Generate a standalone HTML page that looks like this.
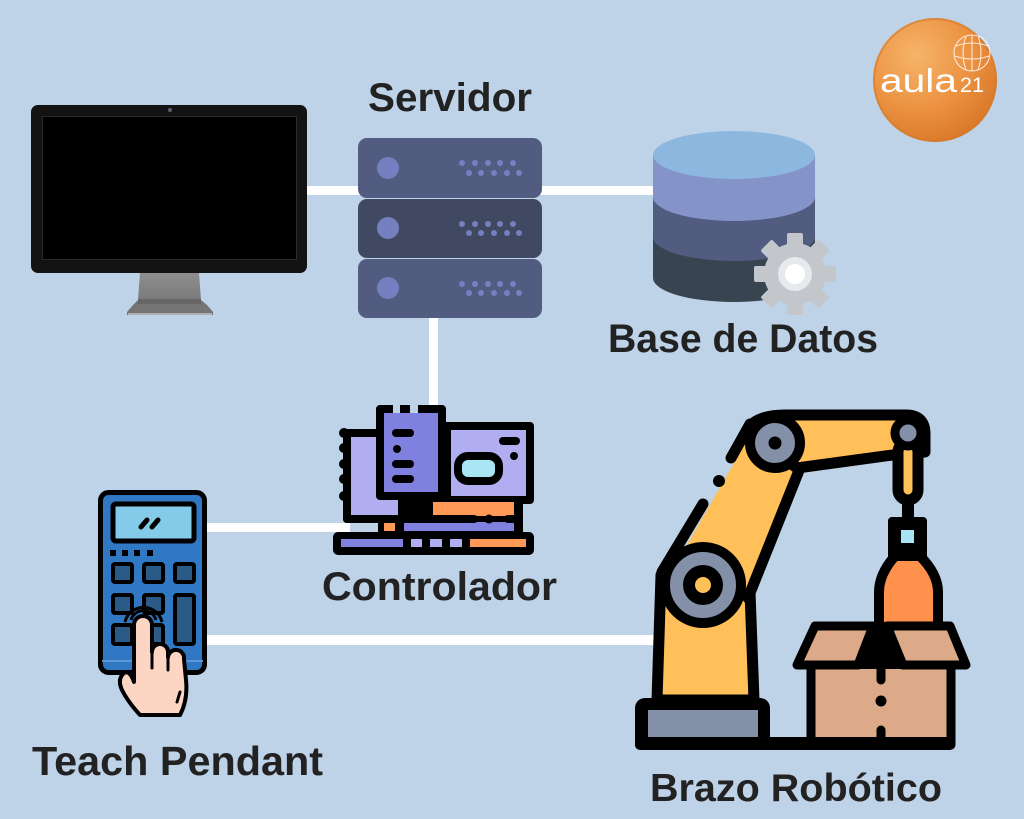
<!DOCTYPE html>
<html>
<head>
<meta charset="utf-8">
<style>
html,body{margin:0;padding:0;}
body{width:1024px;height:819px;overflow:hidden;background:#bed2e8;}
svg{display:block;}
</style>
</head>
<body>
<svg width="1024" height="819" viewBox="0 0 1024 819" xmlns="http://www.w3.org/2000/svg">
<defs>
  <radialGradient id="lg" cx="0.35" cy="0.3" r="0.75">
    <stop offset="0" stop-color="#f6b46a"/>
    <stop offset="0.6" stop-color="#eb9140"/>
    <stop offset="1" stop-color="#d9782a"/>
  </radialGradient>
  <linearGradient id="neck" x1="0" y1="0" x2="0" y2="1">
    <stop offset="0" stop-color="#8e8e8e"/>
    <stop offset="1" stop-color="#7a7a7a"/>
  </linearGradient>
</defs>
<rect width="1024" height="819" fill="#bed2e8"/>

<!-- connector lines -->
<g fill="#ffffff">
  <rect x="300" y="186" width="65" height="9"/>
  <rect x="536" y="186" width="122" height="9"/>
  <rect x="429" y="312" width="9" height="96"/>
  <rect x="200" y="523" width="150" height="9"/>
  <rect x="200" y="635" width="462" height="10"/>
</g>

<!-- Monitor -->
<rect x="31" y="105" width="276" height="168" rx="7" fill="#131313"/>
<rect x="42.5" y="116.5" width="254" height="143" fill="#000" stroke="#2c2c2c" stroke-width="1"/>
<circle cx="170" cy="110" r="2" fill="#5a6070"/>
<polygon points="140,273 199,273 201,300 138,300" fill="url(#neck)"/>
<polygon points="138,300 201,300 207,305 213,312 213,315 127,315 127,312 133,305" fill="#747474"/>
<rect x="138" y="299" width="63" height="5" fill="#666"/>
<rect x="128" y="313" width="84" height="2" fill="#b0b0b0"/>

<!-- Server -->
<rect x="358" y="138" width="184" height="60" rx="9" fill="#525c80"/>
<rect x="358" y="199" width="184" height="59" rx="9" fill="#414861"/>
<rect x="358" y="259" width="184" height="59" rx="9" fill="#525c80"/>
<g fill="#7480c0">
  <circle cx="388" cy="168" r="11"/>
  <circle cx="388" cy="228" r="11"/>
  <circle cx="388" cy="288" r="11"/>
</g>
<g fill="#7480c0">
  <circle cx="462" cy="163" r="3"/><circle cx="475" cy="163" r="3"/><circle cx="488" cy="163" r="3"/><circle cx="500" cy="163" r="3"/><circle cx="513" cy="163" r="3"/>
  <circle cx="469" cy="173" r="3"/><circle cx="481" cy="173" r="3"/><circle cx="494" cy="173" r="3"/><circle cx="507" cy="173" r="3"/><circle cx="519" cy="173" r="3"/>
  <circle cx="462" cy="224" r="3"/><circle cx="475" cy="224" r="3"/><circle cx="488" cy="224" r="3"/><circle cx="500" cy="224" r="3"/><circle cx="513" cy="224" r="3"/>
  <circle cx="469" cy="233" r="3"/><circle cx="481" cy="233" r="3"/><circle cx="494" cy="233" r="3"/><circle cx="507" cy="233" r="3"/><circle cx="519" cy="233" r="3"/>
  <circle cx="462" cy="284" r="3"/><circle cx="475" cy="284" r="3"/><circle cx="488" cy="284" r="3"/><circle cx="500" cy="284" r="3"/><circle cx="513" cy="284" r="3"/>
  <circle cx="469" cy="293" r="3"/><circle cx="481" cy="293" r="3"/><circle cx="494" cy="293" r="3"/><circle cx="507" cy="293" r="3"/><circle cx="519" cy="293" r="3"/>
</g>

<!-- Database -->
<rect x="653" y="237" width="162" height="41" fill="#38444f"/>
<ellipse cx="734" cy="278" rx="81" ry="24" fill="#38444f"/>
<rect x="653" y="197" width="162" height="40" fill="#525c80"/>
<ellipse cx="734" cy="237" rx="81" ry="24" fill="#525c80"/>
<rect x="653" y="155" width="162" height="42" fill="#8494c8"/>
<ellipse cx="734" cy="197" rx="81" ry="24" fill="#8494c8"/>
<ellipse cx="734" cy="155" rx="81" ry="24" fill="#8cb8e0"/>
<!-- gear -->
<g transform="translate(795,274)" fill="#c3c7cb">
  <circle r="31"/>
  <rect x="-8" y="-41" width="16" height="14" rx="2"/>
  <rect x="-8" y="-41" width="16" height="14" rx="2" transform="rotate(45)"/>
  <rect x="-8" y="-41" width="16" height="14" rx="2" transform="rotate(90)"/>
  <rect x="-8" y="-41" width="16" height="14" rx="2" transform="rotate(135)"/>
  <rect x="-8" y="-41" width="16" height="14" rx="2" transform="rotate(180)"/>
  <rect x="-8" y="-41" width="16" height="14" rx="2" transform="rotate(225)"/>
  <rect x="-8" y="-41" width="16" height="14" rx="2" transform="rotate(270)"/>
  <rect x="-8" y="-41" width="16" height="14" rx="2" transform="rotate(315)"/>
  <circle r="17" fill="#e6eaec"/>
  <circle r="10" fill="#ffffff"/>
</g>

<!-- Logo -->
<circle cx="935" cy="80" r="62" fill="url(#lg)"/>
<circle cx="935" cy="80" r="61" fill="none" stroke="#d37a2c" stroke-width="2" opacity="0.6"/>
<g fill="none" stroke="#ffffff" stroke-width="1.1" opacity="0.8">
  <circle cx="972" cy="53" r="18"/>
  <path d="M956,46 Q972,40 988,46 M955,56 Q972,62 989,56 M966,36 Q960,53 966,70 M978,36 Q984,53 978,70 M972,35 L972,71"/>
</g>
<text x="880" y="92" font-family="Liberation Sans, sans-serif" font-size="33" fill="#ffffff" textLength="77" lengthAdjust="spacingAndGlyphs">aula</text>
<text x="960" y="92" font-family="Liberation Sans, sans-serif" font-size="21" fill="#ffffff" textLength="24" lengthAdjust="spacingAndGlyphs">21</text>

<!-- Controller -->
<g stroke="#000" stroke-width="8" stroke-linejoin="round" stroke-linecap="round">
  <rect x="347" y="433" width="90" height="86" fill="#b0aef0"/>
  <rect x="380" y="409" width="62" height="87" fill="#8080e0"/>
  <rect x="447" y="426" width="83" height="74" fill="#b0aef0"/>
  <rect x="458" y="456" width="41" height="25" rx="10" fill="#a8e6f4"/>
  <line x1="503" y1="441" x2="516" y2="441"/>
  <line x1="396" y1="433" x2="410" y2="433"/>
  <line x1="396" y1="464" x2="410" y2="464"/>
  <line x1="396" y1="479" x2="410" y2="479"/>
</g>
<rect x="393" y="403" width="7" height="10" fill="#bed2e8"/>
<rect x="410" y="403" width="8" height="10" fill="#bed2e8"/>
<g fill="#000">
  <circle cx="405" cy="409" r="4"/>
  <circle cx="397" cy="449" r="4"/>
  <circle cx="514" cy="456" r="4"/>
  <circle cx="344" cy="433" r="5"/><circle cx="344" cy="448" r="5"/><circle cx="344" cy="464" r="5"/><circle cx="344" cy="479" r="5"/><circle cx="344" cy="496" r="5"/>
  <rect x="398" y="496" width="125" height="40"/>
  <rect x="378" y="517" width="24" height="18"/>
</g>
<rect x="433" y="502" width="81" height="14" fill="#ff9955"/>
<rect x="404" y="522" width="110" height="9" fill="#8080e0"/>
<rect x="384" y="523" width="11" height="8" fill="#ff9955"/>
<line x1="347" y1="519" x2="474" y2="519" stroke="#000" stroke-width="8" stroke-linecap="round"/>
<circle cx="489" cy="519" r="4.5" fill="#000"/>
<line x1="508" y1="519" x2="518" y2="519" stroke="#000" stroke-width="8" stroke-linecap="round"/>
<rect x="333" y="532" width="201" height="23" rx="5" fill="#000"/>
<rect x="341" y="539" width="62" height="8" fill="#8080e0"/>
<rect x="411" y="539" width="11" height="8" fill="#b0aef0"/>
<rect x="430" y="539" width="12" height="8" fill="#b0aef0"/>
<rect x="450" y="539" width="12" height="8" fill="#b0aef0"/>
<rect x="470" y="539" width="56" height="8" fill="#ff9955"/>

<!-- Calculator / Teach pendant -->
<rect x="100.5" y="492.5" width="104" height="180" rx="8" fill="#3178c4" stroke="#000" stroke-width="5"/>
<rect x="102" y="660" width="101" height="2" fill="#5a97d6"/>
<rect x="113" y="504" width="81" height="37" rx="3" fill="#84cbea" stroke="#000" stroke-width="5"/>
<g stroke="#000" stroke-width="5" stroke-linecap="round">
  <line x1="141" y1="527" x2="147" y2="520"/>
  <line x1="152" y1="527" x2="158" y2="520"/>
</g>
<g fill="#000">
  <rect x="110" y="550" width="6" height="6"/><rect x="122" y="550" width="6" height="6"/><rect x="134" y="550" width="6" height="6"/><rect x="147" y="550" width="6" height="6"/>
</g>
<g fill="#2a5a85" stroke="#000" stroke-width="4" stroke-linejoin="round">
  <rect x="113" y="564" width="19" height="18" rx="2"/>
  <rect x="144" y="564" width="19" height="18" rx="2"/>
  <rect x="175" y="564" width="19" height="18" rx="2"/>
  <rect x="113" y="595" width="19" height="18" rx="2"/>
  <rect x="144" y="595" width="19" height="18" rx="2"/>
  <rect x="175" y="595" width="19" height="49" rx="2"/>
  <rect x="113" y="625" width="19" height="19" rx="2"/>
  <rect x="144" y="625" width="19" height="19" rx="2"/>
</g>
<g fill="none" stroke="#000" stroke-width="3">
  <path d="M131,620 A13 13 0 0 1 156,620"/>
  <path d="M125,622 A19 19 0 0 1 162,622"/>
</g>
<path d="M134,682 L134,625 A9 9 0 0 1 152,625 L152,652 A8 8 0 0 1 168,652 L168,657 A8 8 0 0 1 184,659 L186,680 Q188,700 180,715 L140,715 Q128,702 122,690 Q117,679 124,673 Q130,670 134,682 Z" fill="#fdd5c3" stroke="#000" stroke-width="4" stroke-linejoin="round"/>
<g stroke="#000" stroke-width="3" stroke-linecap="round">
  <line x1="152" y1="652" x2="152" y2="668"/>
  <line x1="168" y1="657" x2="168" y2="670"/>
  <line x1="180" y1="692" x2="177" y2="702"/>
</g>

<!-- Robot arm -->
<g stroke="#000" stroke-width="11" stroke-linejoin="round" stroke-linecap="round">
  <!-- lower arm -->
  <polygon points="657,700 661,575 750,592 754,700" fill="#ffc05a"/>
</g>
<!-- upper arm yellow fill -->
<polygon points="668,578 754,428 800,468 748,598" fill="#ffc05a"/>
<g stroke="#000" stroke-width="11" stroke-linecap="round" stroke-linejoin="round" fill="none">
  <line x1="748" y1="598" x2="800" y2="468"/>
  <line x1="662" y1="572" x2="703" y2="504"/>
  <line x1="731" y1="458" x2="750" y2="424"/>
</g>
<circle cx="719" cy="481" r="6" fill="#000"/>
<g stroke="#000" stroke-width="11" stroke-linejoin="round" stroke-linecap="round">
  <!-- top arm -->
  <path d="M746,432 Q754,415 785,415 L906,415 Q925,415 925,434 L925,452 L900,454 L797,468 Z" fill="#ffc05a"/>
  <!-- wrist -->
  <rect x="898" y="442" width="20" height="58" rx="10" fill="#ffc05a"/>
</g>
<circle cx="908" cy="433" r="13" fill="#8490a8" stroke="#000" stroke-width="9"/>
<!-- shoulder joint -->
<circle cx="775" cy="443" r="25" fill="#8490a8" stroke="#000" stroke-width="10"/>
<circle cx="775" cy="443" r="6.5" fill="#000"/>
<!-- elbow joint -->
<circle cx="703" cy="585" r="38" fill="#8490a8" stroke="#000" stroke-width="10"/>
<circle cx="703" cy="585" r="14" fill="#ffc05a" stroke="#000" stroke-width="12"/>
<!-- bottle -->
<path d="M895,556 L920,556 Q938,574 938,592 L938,668 L879,668 L879,592 Q879,574 895,556 Z" fill="#ff914d" stroke="#000" stroke-width="10" stroke-linejoin="round"/>
<g fill="#000">
  <rect x="902" y="498" width="12" height="24"/>
  <rect x="888" y="517" width="39" height="44" rx="4"/>
</g>
<rect x="901" y="530" width="13" height="13" fill="#a8e4f4"/>
<!-- box -->
<g stroke="#000" stroke-width="9" stroke-linejoin="round" stroke-linecap="round">
  <rect x="811" y="660" width="140" height="85" fill="#dcaa88"/>
  <polygon points="815,626 873,626 858,665 797,665" fill="#dcaa88"/>
  <polygon points="887,626 950,626 966,665 903,665" fill="#dcaa88"/>
  <line x1="881" y1="665" x2="881" y2="680"/>
  <line x1="881" y1="730" x2="881" y2="745"/>
</g>
<polygon points="870,622 892,622 903,669 858,669" fill="#000"/>
<circle cx="881" cy="701" r="5.5" fill="#000"/>
<!-- base -->
<rect x="635" y="698" width="135" height="52" rx="10" fill="#000"/>
<rect x="648" y="710" width="110" height="27" fill="#8490a8"/>
<rect x="635" y="737" width="320" height="13" rx="5" fill="#000"/>

<!-- Labels -->
<g font-family="Liberation Sans, sans-serif" font-weight="bold" fill="#222222">
  <text x="368" y="111" font-size="40" textLength="164" lengthAdjust="spacingAndGlyphs">Servidor</text>
  <text x="608" y="352" font-size="40" textLength="270" lengthAdjust="spacingAndGlyphs">Base de Datos</text>
  <text x="322" y="600" font-size="40" textLength="235" lengthAdjust="spacingAndGlyphs">Controlador</text>
  <text x="32" y="775" font-size="41" textLength="291" lengthAdjust="spacingAndGlyphs">Teach Pendant</text>
  <text x="650" y="801" font-size="39" textLength="292" lengthAdjust="spacingAndGlyphs">Brazo Robótico</text>
</g>
</svg>
</body>
</html>
